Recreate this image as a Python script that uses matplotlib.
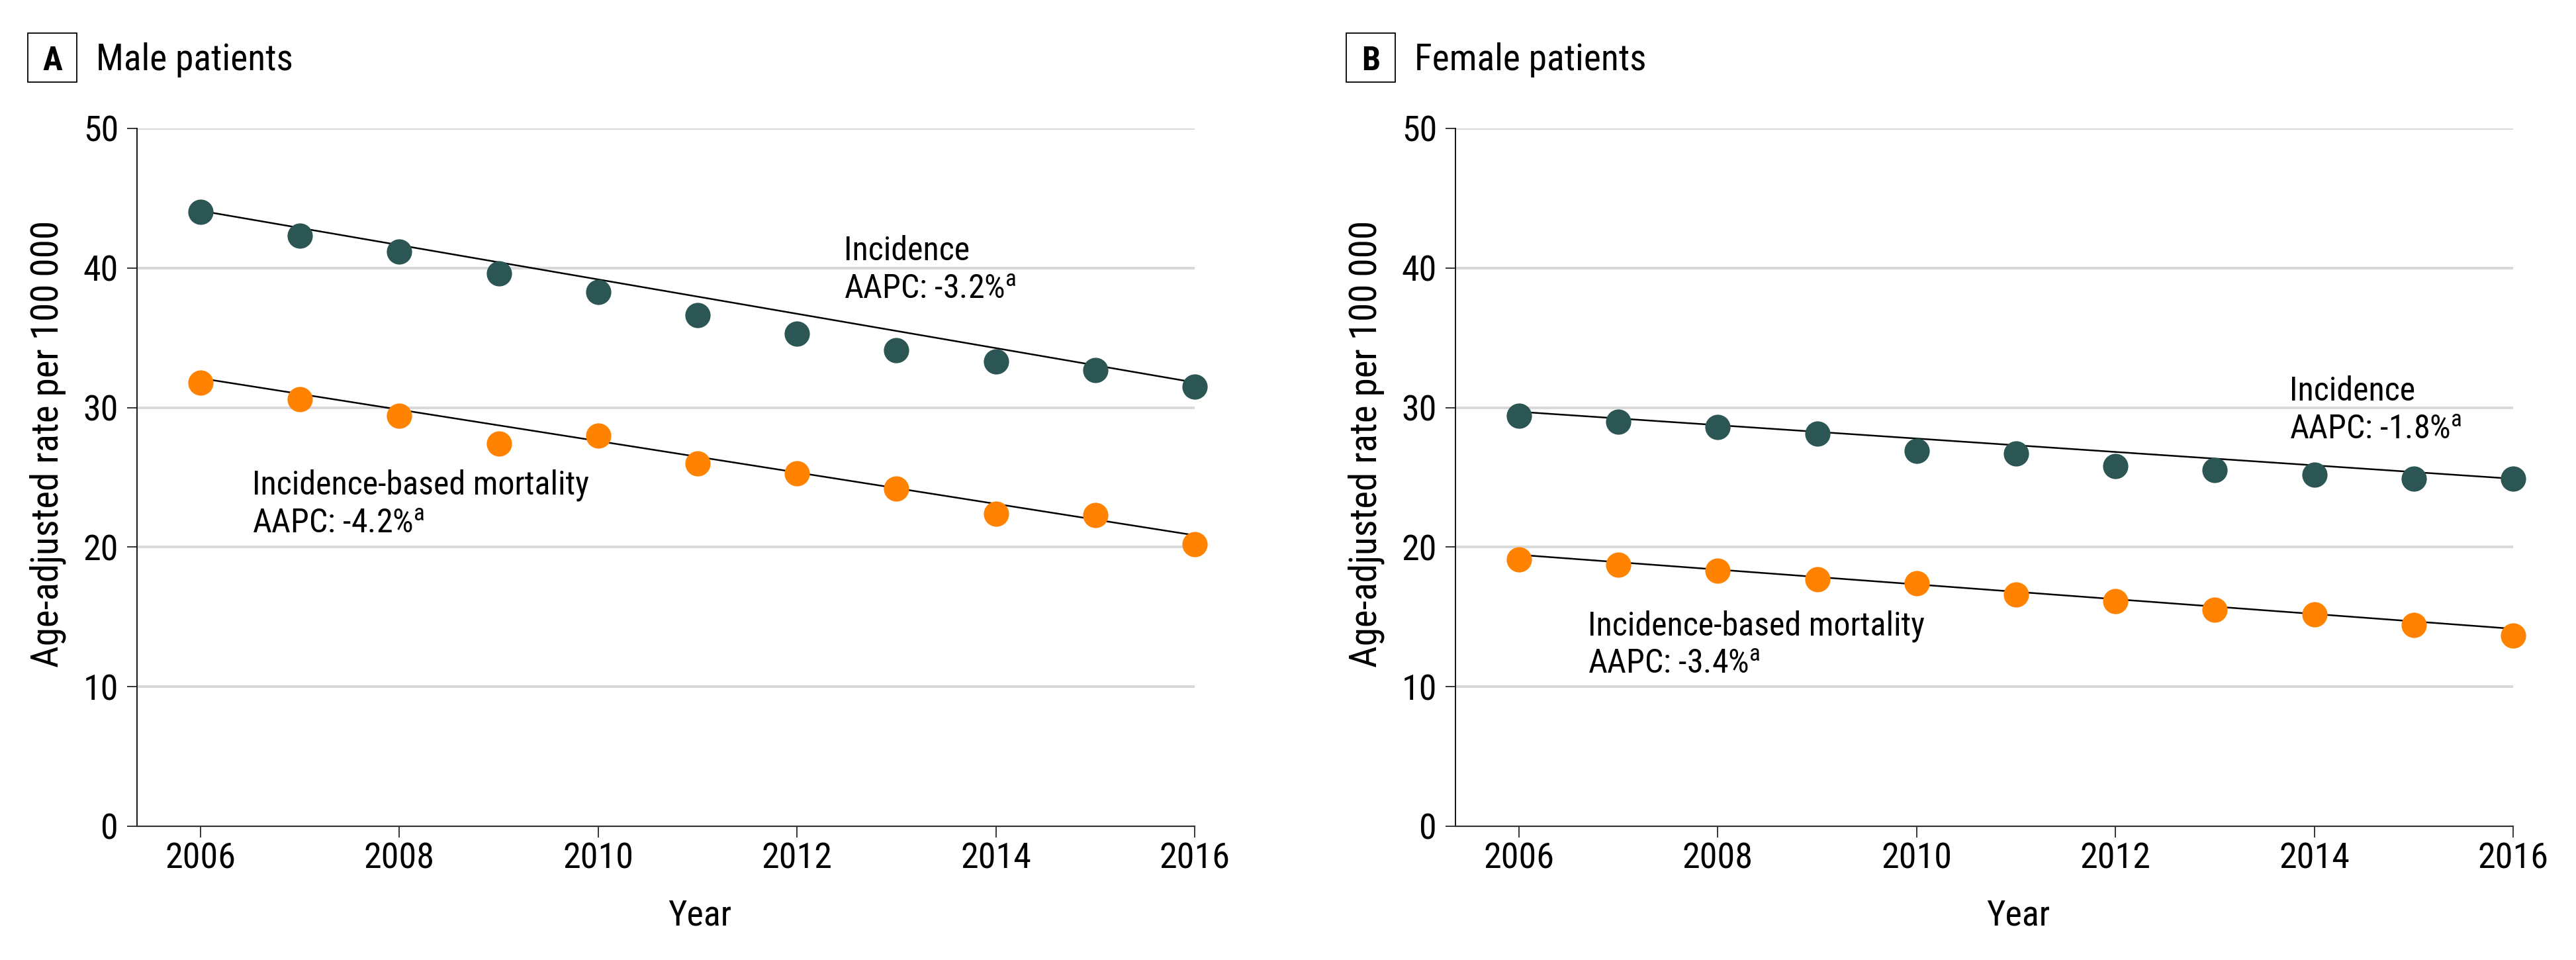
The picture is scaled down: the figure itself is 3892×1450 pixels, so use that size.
import numpy as np
import matplotlib
matplotlib.use("Agg")
import matplotlib.pyplot as plt
from matplotlib.patches import Rectangle
from matplotlib import font_manager

# pick a narrow sans if one is installed
installed = {f.name for f in font_manager.fontManager.ttflist}
font = 'DejaVu Sans'
for name in ['Roboto Condensed', 'Liberation Sans Narrow', 'Open Sans Condensed',
             'Noto Sans Condensed', 'Lato', 'Liberation Sans']:
    if name in installed:
        font = name
        break
plt.rcParams['font.family'] = [font, 'DejaVu Sans']
plt.rcParams['mathtext.fontset'] = 'custom'
plt.rcParams['mathtext.rm'] = font

# Data
years = list(range(2006, 2017))

male_incidence = [44.0, 42.3, 41.2, 39.6, 38.3, 36.6, 35.3, 34.1, 33.3, 32.7, 31.5]
male_mortality = [31.8, 30.6, 29.4, 27.4, 28.0, 26.0, 25.3, 24.2, 22.4, 22.3, 20.2]
male_inc_fit = [44.1, 31.8]      # fitted line at 2006 and 2016
male_mort_fit = [32.1, 20.85]

female_incidence = [29.4, 29.0, 28.6, 28.15, 26.9, 26.7, 25.8, 25.5, 25.2, 24.9, 24.9]
female_mortality = [19.1, 18.75, 18.3, 17.7, 17.4, 16.6, 16.15, 15.5, 15.2, 14.4, 13.65]
female_inc_fit = [29.7, 24.9]
female_mort_fit = [19.45, 14.15]

fit_years = [2006, 2016]

male_aapc = ['-3.2%', '-4.2%']
female_aapc = ['-1.8%', '-3.4%']

teal = '#2b5654'
orange = '#ff8300'

W, H = 3892, 1450
fig = plt.figure(figsize=(W / 100, H / 100), dpi=100)

def make_panel(left_px, letter, title, inc, mort, inc_fit, mort_fit, aapc, inc_txt, mort_txt):
    ax = fig.add_axes([left_px / W, 202 / H, 1598 / W, 1054 / H])
    ax.set_xlim(2005.36, 2016)
    ax.set_ylim(0, 50)
    for y in range(10, 51, 10):
        ax.axhline(y, color='#d9d9d9', lw=2.9, zorder=0)
    ax.plot(fit_years, inc_fit, color='black', lw=1.8, zorder=2)
    ax.plot(fit_years, mort_fit, color='black', lw=1.8, zorder=2)
    ax.plot(years, inc, 'o', color=teal, ms=27.5, mec='none', zorder=3, clip_on=False)
    ax.plot(years, mort, 'o', color=orange, ms=27.5, mec='none', zorder=3, clip_on=False)

    for s in ['top', 'right']:
        ax.spines[s].set_visible(False)
    ax.spines['left'].set_linewidth(1.3)
    ax.spines['bottom'].set_linewidth(1.6)
    ax.spines['bottom'].set_color('#333333')
    ax.set_xticks(range(2006, 2017, 2))
    ax.set_yticks(range(0, 51, 10))
    ax.tick_params(axis='y', length=11, width=1.1, pad=9, labelsize=39)
    ax.tick_params(axis='x', length=12, width=1.1, pad=5, labelsize=39)

    ax.set_xlabel('Year', fontsize=39)
    ax.xaxis.set_label_coords(0.532, -0.142)
    ax.xaxis.label.set_va('baseline')
    ax.set_ylabel('Age-adjusted rate per 100\u2009000', fontsize=41)
    ax.yaxis.set_label_coords(-0.075, 0.548)
    ax.yaxis.label.set_va('baseline')

    ax.text(inc_txt[0], inc_txt[1], 'Incidence', fontsize=36, va='baseline')
    ax.text(inc_txt[0], inc_txt[1] - 2.75, 'AAPC: ' + aapc[0] + r'$^{\mathrm{a}}$',
            fontsize=36, va='baseline')
    ax.text(mort_txt[0], mort_txt[1], 'Incidence-based mortality', fontsize=36, va='baseline')
    ax.text(mort_txt[0], mort_txt[1] - 2.75, 'AAPC: ' + aapc[1] + r'$^{\mathrm{a}}$',
            fontsize=36, va='baseline')

    bx = left_px - 165
    fig.patches.append(Rectangle((bx / W, 1 - 124 / H), 74 / W, 74 / H,
                                 transform=fig.transFigure, fill=False,
                                 edgecolor='black', lw=1.3))
    fig.text((bx + 37) / W, 1 - 106 / H, letter, fontsize=36, fontweight='bold',
             ha='center', va='baseline')
    fig.text((bx + 103) / W, 1 - 106 / H, title, fontsize=40, va='baseline')
    return ax

make_panel(207, 'A', 'Male patients', male_incidence, male_mortality,
           male_inc_fit, male_mort_fit, male_aapc, (2012.47, 40.57), (2006.52, 23.79))
make_panel(2199, 'B', 'Female patients', female_incidence, female_mortality,
           female_inc_fit, female_mort_fit, female_aapc, (2013.75, 30.52), (2006.69, 13.70))

fig.savefig('out.png', dpi=100)
